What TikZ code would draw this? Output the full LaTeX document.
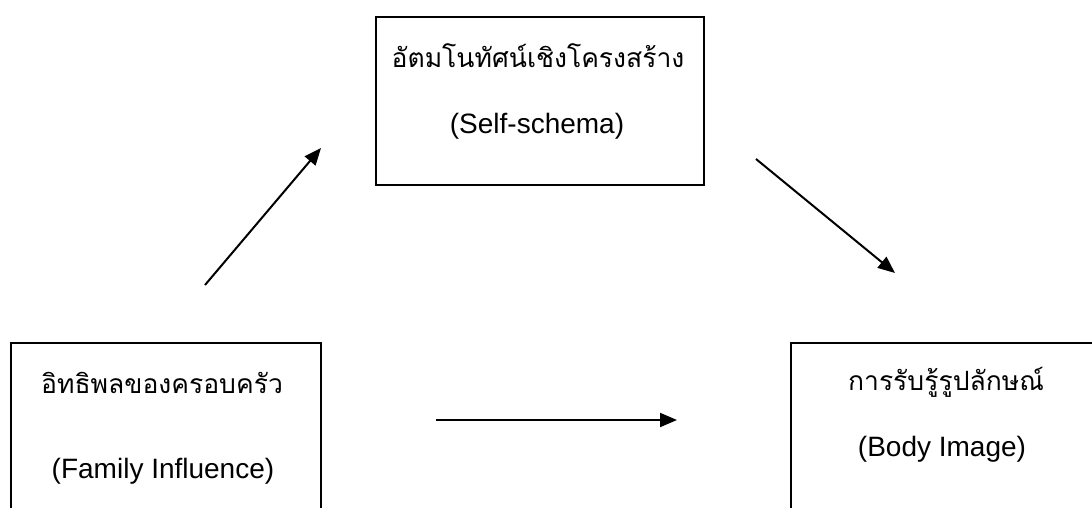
\documentclass[tikz,border=0pt]{standalone}
\usepackage{fontspec}
\setmainfont{Liberation Sans}
\newfontfamily\thaifont[Script=Thai]{Loma}
\usetikzlibrary{arrows.meta}
\tikzset{
  box/.style={draw=black, line width=1.3pt, rectangle, inner sep=0pt},
  thtext/.style={anchor=base, inner sep=0pt, font=\thaifont\fontsize{26.5}{30}\selectfont},
  entext/.style={anchor=base, inner sep=0pt, font=\fontsize{28}{32}\selectfont},
  link/.style={line width=2pt, -{Triangle[length=17pt,width=14pt]}}
}
\begin{document}
\begin{tikzpicture}[x=1pt,y=-1pt]
\useasboundingbox (0,0) rectangle (1092,507);
\clip (0,0) rectangle (1092,507);
% boxes
\node[box, minimum width=328pt, minimum height=168pt] (self) at (540,101) {};
\node[box, minimum width=310pt, minimum height=217pt] (family) at (166,451.5) {};
\node[box, minimum width=329pt, minimum height=217pt] (body) at (955.5,451.5) {};
% texts
\node[thtext] (selfth) at (538,67) {อัตมโนทัศน์เชิงโครงสร้าง};
\node[entext] (selfen) at (537,133) {(Self-schema)};
\node[thtext] (famth) at (162,393) {อิทธิพลของครอบครัว};
\node[entext] (famen) at (163,478) {(Family Influence)};
\node[thtext] (bodyth) at (946,390) {การรับรู้รูปลักษณ์};
\node[entext] (bodyen) at (942,456) {(Body Image)};
% connector end points
\coordinate (a1s) at (205,285);
\coordinate (a1e) at (321,148);
\coordinate (a2s) at (756,159);
\coordinate (a2e) at (895,273);
\coordinate (a3s) at (436,420);
\coordinate (a3e) at (677,420);
\draw[link] (a1s) -- (a1e);
\draw[link] (a2s) -- (a2e);
\draw[link] (a3s) -- (a3e);
\end{tikzpicture}
\end{document}
